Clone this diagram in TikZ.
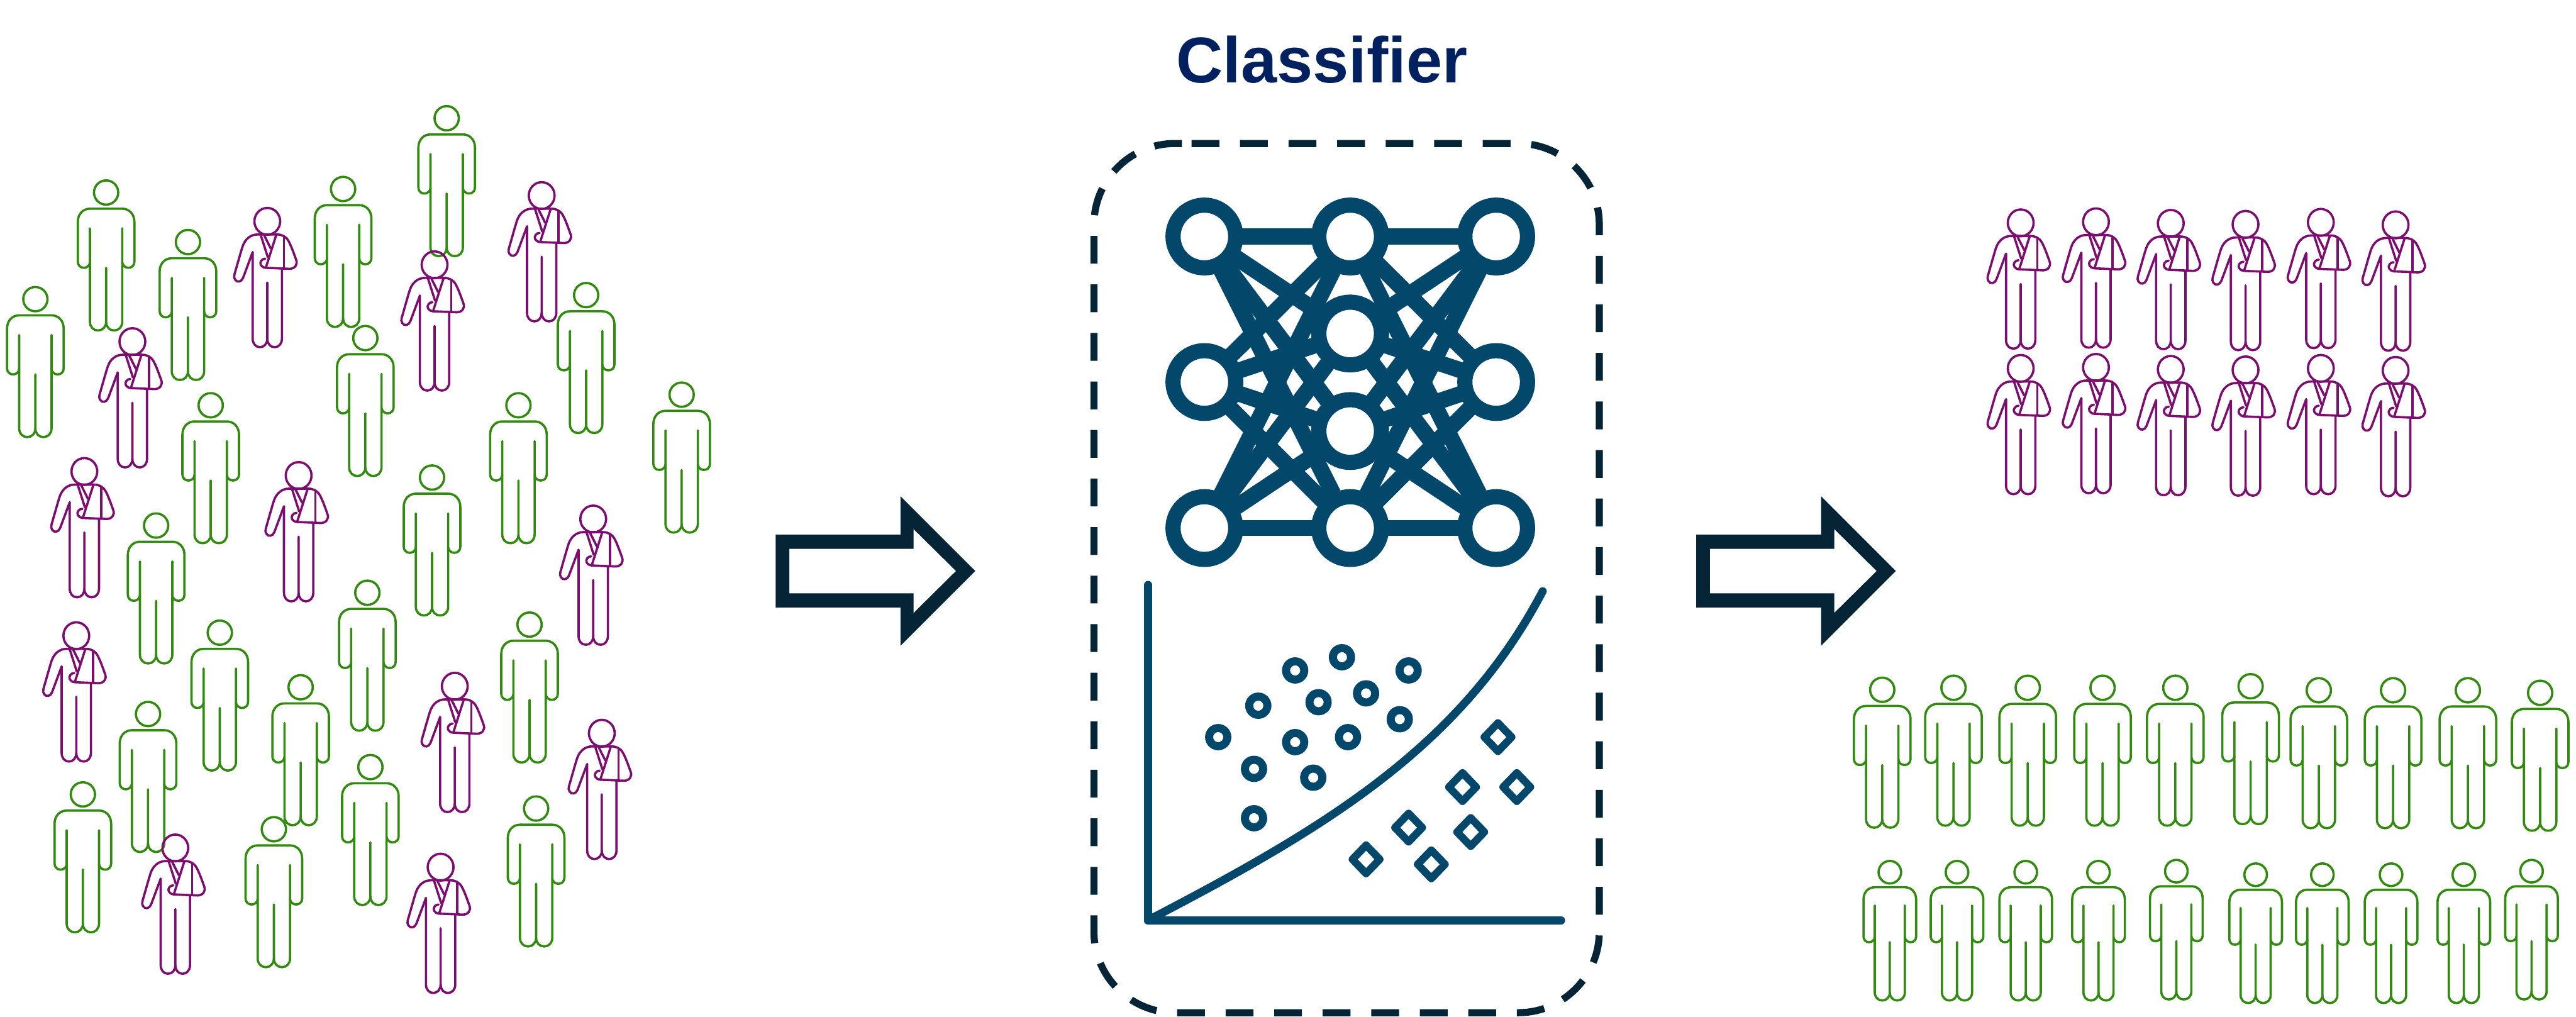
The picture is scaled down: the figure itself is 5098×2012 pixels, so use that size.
\documentclass[tikz,border=0pt]{standalone}
\usepackage{fontspec}
\setmainfont{Liberation Sans}
\usetikzlibrary{backgrounds}
\definecolor{healthyc}{HTML}{338A10}
\definecolor{sickc}{HTML}{7B0E6F}
\definecolor{netc}{HTML}{03476B}
\definecolor{darkc}{HTML}{052435}
\definecolor{titlec}{HTML}{002060}
\tikzset{
  x=0.01cm,y=-0.01cm,
  figline/.style={line width=0.045cm,line cap=round,line join=round},
  netnode/.style={circle,draw=netc,fill=white,line width=0.30cm,minimum size=1.24cm,inner sep=0pt,outer sep=0pt},
  netedge/.style={draw=netc,line width=0.32cm},
  bigarrow/.style={fill=darkc,even odd rule},
  pics/healthy/.style={code={
    \draw[figline,healthyc] (0,0) circle[radius=24];
    \draw[figline,healthyc] (-32,71) -- (-32,256) .. controls (-32,266) and (-25,273) .. (-16,273) .. controls (-7,273) and (0,266) .. (0,256) -- (0,149);
    \draw[figline,healthyc] (0,256) .. controls (0,266) and (7,273) .. (16,273) .. controls (25,273) and (32,266) .. (32,256) -- (32,71);
    \draw[figline,healthyc] (-32,138) .. controls (-32,144) and (-38,149) .. (-44,149) .. controls (-51,149) and (-56,144) .. (-56,137) -- (-56,58) .. controls (-56,43) and (-46,32) .. (-32,32) -- (32,32) .. controls (46,32) and (56,43) .. (56,58) -- (56,137) .. controls (56,144) and (51,149) .. (44,149) .. controls (38,149) and (32,144) .. (32,138);
  }},
  pics/healthysmall/.style={code={
    \begin{scope}[scale=0.93]
    \draw[figline,healthyc] (0,0) circle[radius=24];
    \draw[figline,healthyc] (-32,71) -- (-32,256) .. controls (-32,266) and (-25,273) .. (-16,273) .. controls (-7,273) and (0,266) .. (0,256) -- (0,149);
    \draw[figline,healthyc] (0,256) .. controls (0,266) and (7,273) .. (16,273) .. controls (25,273) and (32,266) .. (32,256) -- (32,71);
    \draw[figline,healthyc] (-32,138) .. controls (-32,144) and (-38,149) .. (-44,149) .. controls (-51,149) and (-56,144) .. (-56,137) -- (-56,58) .. controls (-56,43) and (-46,32) .. (-32,32) -- (32,32) .. controls (46,32) and (56,43) .. (56,58) -- (56,137) .. controls (56,144) and (51,149) .. (44,149) .. controls (38,149) and (32,144) .. (32,138);
    \end{scope}
  }},
  pics/sick/.style={code={
    \draw[figline,sickc] (0,0) ellipse[x radius=25.5,y radius=26.5];
    \draw[figline,sickc] (-29,61) -- (-29,232) .. controls (-29,242) and (-23,249) .. (-14.5,249) .. controls (-6,249) and (0,242) .. (0,232) -- (0,121);
    \draw[figline,sickc] (0,232) .. controls (0,242) and (6,249) .. (14.5,249) .. controls (23,249) and (29,242) .. (29,232) -- (29,94);
    \draw[figline,sickc] (-29,61) -- (-48,112) .. controls (-51,120) and (-60,122) .. (-64,115) .. controls (-66,112) and (-66,109) .. (-65,105) .. controls (-60,88) and (-54,66) .. (-49,50) .. controls (-44,35) and (-33,26) .. (-19,26) -- (19,26) .. controls (29,26) and (37,30) .. (42,39) .. controls (47,48) and (52,62) .. (57,76) .. controls (61,86) and (54,94) .. (44,94) -- (-3,92) .. controls (-13,91) and (-16,83) .. (-12,78) .. controls (-10,75) and (-7,74) .. (-4,74);
    \draw[figline,sickc] (-3,92) -- (18,26);
    \draw[figline,sickc] (-13,27) -- (1,71);
    \draw[figline,sickc] (-6,28) -- (7,54);
    \draw[figline,sickc] (33,32) -- (33,92);
  }},
}
\begin{document}
\begin{tikzpicture}
\useasboundingbox (0,0) rectangle (5098,2012);
% left cluster
\foreach \px/\py in {884/234,210/381,679/374,372/479,70/592,1160/584,723/669,417/802,1026/802,1349/781,855/945,309/1040,727/1173,435/1252,1048/1236,595/1360,293/1413,733/1518,164/1572,1061/1600,542/1641}
  \pic at (\px,\py) {healthy};
\foreach \px/\py in {1072/387,529/438,860/524,262/676,167/933,591/941,1174/1027,151/1258,900/1358,1191/1451,347/1678,872/1716}
  \pic at (\px,\py) {sick};
% right groups
\foreach \px/\py in {3999/441,4148/439,4296/442,4444/444,4593/440,4741/445,3999/729,4148/727,4296/731,4444/732,4593/729,4741/733}
  \pic at (\px,\py) {sick};
\foreach \px/\py in {3725/1365,3866/1361,4013/1361,4161/1361,4305/1361,4454/1358,4589/1366,4736/1366,4884/1366,5027/1371}
  \pic at (\px,\py) {healthy};
\foreach \px/\py in {3740/1726,3873/1726,4009/1726,4153/1726,4307/1724,4464/1731,4596/1731,4732/1731,4876/1731,5010/1724}
  \pic at (\px,\py) {healthysmall};
% arrows
\path[bigarrow] (1535,1058) -- (1782,1058) -- (1782,982) -- (1930,1130) -- (1782,1278) -- (1782,1202) -- (1535,1202) -- cycle
  (1562,1086) -- (1808,1086) -- (1808,1047) -- (1892,1130) -- (1808,1213) -- (1808,1174) -- (1562,1174) -- cycle;
\path[bigarrow] (3357,1058) -- (3604,1058) -- (3604,982) -- (3752,1130) -- (3604,1278) -- (3604,1202) -- (3357,1202) -- cycle
  (3384,1086) -- (3630,1086) -- (3630,1047) -- (3714,1130) -- (3630,1213) -- (3630,1174) -- (3384,1174) -- cycle;
% classifier box
\draw[darkc,line width=0.14cm,dash pattern=on 0.55cm off 0.41cm]
  (2358,284) -- (3005,284) .. controls (3093,284) and (3165,356) .. (3165,444)
  -- (3165,1844) .. controls (3165,1932) and (3093,2004) .. (3005,2004)
  -- (2325,2004) .. controls (2237,2004) and (2165,1932) .. (2165,1844)
  -- (2165,444) .. controls (2165,356) and (2237,284) .. (2325,284) -- (2358,284);
\node[anchor=base,text=titlec,inner sep=0pt] (title) at (2616,164) {\fontsize{36.4}{40}\selectfont\bfseries Classifier};
% network
\node[netnode] (a1) at (2383.5,468) {};
\node[netnode] (a2) at (2383.5,756) {};
\node[netnode] (a3) at (2383.5,1045) {};
\node[netnode] (b1) at (2672,468) {};
\node[netnode] (b2) at (2672,660) {};
\node[netnode] (b3) at (2672,853) {};
\node[netnode] (b4) at (2672,1045) {};
\node[netnode] (c1) at (2961,468) {};
\node[netnode] (c2) at (2961,756) {};
\node[netnode] (c3) at (2961,1045) {};
\begin{scope}[on background layer]
\foreach \u in {a1,a2,a3,c1,c2,c3}
  \foreach \v in {b1,b2,b3,b4}
    \draw[netedge] (\u.center) -- (\v.center);
\end{scope}
% chart
\draw[netc,line width=0.17cm,line cap=round,line join=round] (2272,1158) -- (2272,1821.5) -- (3089,1821.5);
\draw[netc,line width=0.16cm,line cap=round] (2272,1821) .. controls (2620,1640) and (2890,1480) .. (3053,1170);
\foreach \a/\b in {443/617,556/510,660/390,792/345,980/390,726/498,860/468,955/556,660/634,809/617,544/725,711/755,544/893}
  \draw[netc,line width=0.16cm] ({2100+\a/1.425},{1100+\b/1.72}) circle[radius=18];
\foreach \a/\b in {1232/617,1132/787,1285/787,980/925,1155/940,860/1033,1044/1050}
  \draw[netc,line width=0.15cm,line join=round]
    ({2100+\a/1.425+27},{1100+\b/1.72}) -- ({2100+\a/1.425},{1100+\b/1.72-28}) -- ({2100+\a/1.425-27},{1100+\b/1.72}) -- ({2100+\a/1.425},{1100+\b/1.72+28}) -- cycle;
\end{tikzpicture}
\end{document}
